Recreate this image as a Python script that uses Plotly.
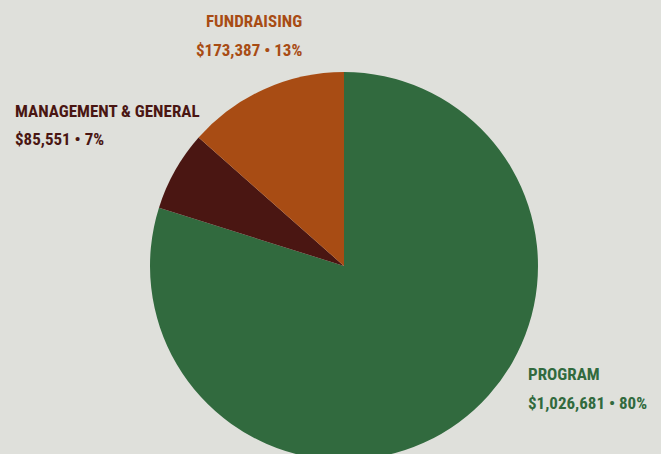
import plotly.graph_objects as go

categories = ["PROGRAM", "MANAGEMENT & GENERAL", "FUNDRAISING"]
amounts = [1026681, 85551, 173387]
percent_labels = ["80%", "7%", "13%"]
colors = ["#316a3e", "#4a1612", "#a84c14"]

W, H = 661, 470
cx, cy, r = 344, 266, 194

fig = go.Figure(go.Pie(
    labels=categories, values=amounts, sort=False, direction="clockwise", rotation=0,
    marker=dict(colors=colors, line=dict(width=0)),
    textinfo="none", hoverinfo="label+value+percent", showlegend=False,
    domain=dict(x=[(cx - r) / W, (cx + r) / W], y=[(H - cy - r) / H, (H - cy + r) / H]),
))

font_family = "Roboto Condensed, Liberation Sans Narrow, Roboto, sans-serif"
label_pos = {
    "PROGRAM": (526, 374, "left"),
    "MANAGEMENT & GENERAL": (13, 111, "left"),
    "FUNDRAISING": (304, 21, "right"),
}
for cat, amt, pct, col in zip(categories, amounts, percent_labels, colors):
    x, y, align = label_pos[cat]
    for i, line in enumerate([cat, f"${amt:,} • {pct}"]):
        fig.add_annotation(
            x=x / W, y=1 - (y + 28.5 * i) / H, xref="paper", yref="paper",
            xanchor=align, yanchor="middle", align=align, showarrow=False,
            text=f"<b>{line}</b>",
            font=dict(family=font_family, size=17, color=col),
        )

fig.update_layout(
    width=W, height=H, margin=dict(l=0, r=0, t=0, b=0),
    paper_bgcolor="#dfe0db", plot_bgcolor="#dfe0db",
)
fig.write_html(
    "out.html",
    config={"displayModeBar": False},
    post_script="document.body.style.margin='0';document.body.style.overflow='hidden';",
)
